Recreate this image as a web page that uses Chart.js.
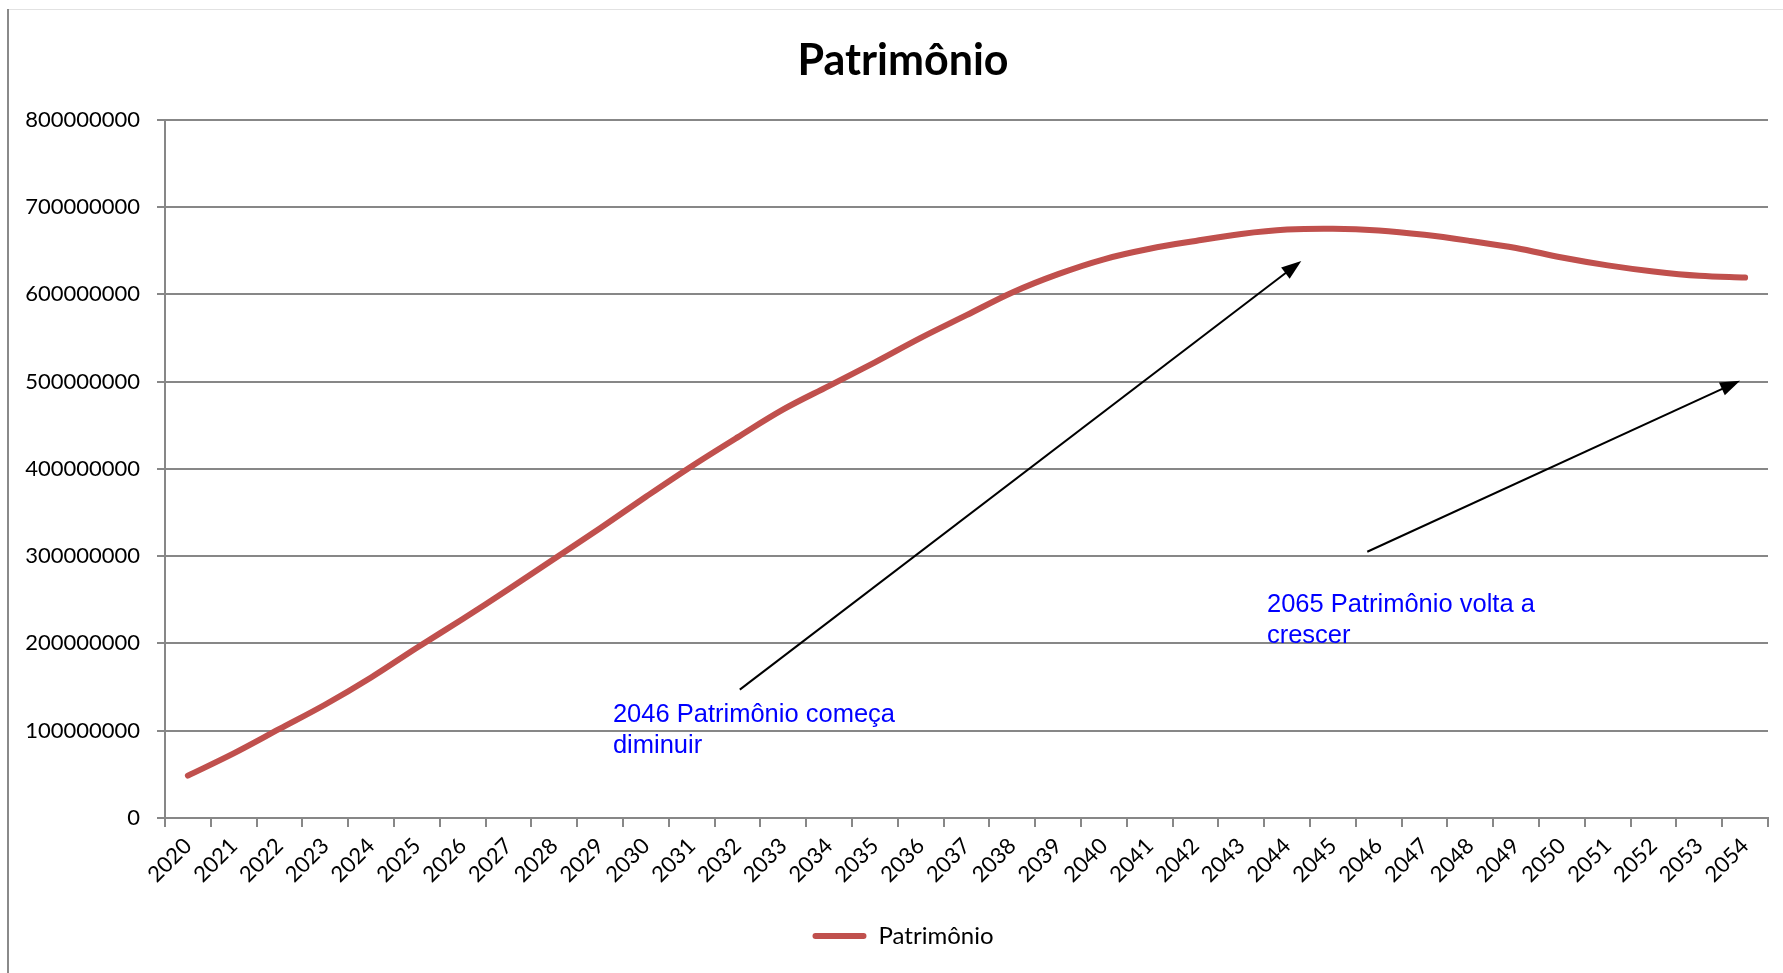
<!DOCTYPE html>
<html>
<head>
<meta charset="utf-8">
<title>Patrimônio</title>
<script src="https://cdn.jsdelivr.net/npm/chart.js@4.4.1/dist/chart.umd.min.js"></script>
<style>
    html, body { margin: 0; padding: 0; background: #fff; }
    canvas { display: block; }
</style>
</head>
<body>
<canvas id="patrimonioChart" width="1783" height="973"></canvas>
<script>
// Chart data
const years = [
    '2020', '2021', '2022', '2023', '2024', '2025', '2026', '2027', '2028', '2029',
    '2030', '2031', '2032', '2033', '2034', '2035', '2036', '2037', '2038', '2039',
    '2040', '2041', '2042', '2043', '2044', '2045', '2046', '2047', '2048', '2049',
    '2050', '2051', '2052', '2053', '2054'
];
const patrimonio = [
    48500000, 74000000, 102000000, 130000000, 161000000, 195000000, 228000000, 262000000, 297000000, 332000000,
    368000000, 403000000, 436000000, 468000000, 495000000, 522000000, 550000000, 576000000, 602000000, 623000000,
    640000000, 652000000, 661000000, 669000000, 674000000, 675000000, 673000000, 668000000, 661000000, 653000000,
    642000000, 633000000, 626000000, 621000000, 619000000
];
const yMin = 0;
const yMax = 800000000;
const yStep = 100000000;

// Annotation texts
const noteLines = [
    ['2046 Patrimônio começa', 'diminuir'],
    ['2065 Patrimônio volta a', 'crescer']
];

// Where the notes and arrows sit, in axis units (category index, value)
const noteAnchors = [[9.28, 118500000], [23.56, 243500000]];
const arrowLines = [
    { from: [12.05, 147000000], to: [24.31, 638000000] },
    { from: [25.75, 305000000], to: [33.89, 501000000] }
];

const lineColor = '#C0504D';
const gridColor = '#878787';

// White background + the chart frame edge seen on the left/top
const framePlugin = {
    id: 'frame',
    afterLayout(chart) {
        // let the long y labels run past the axis box without being clipped
        chart.scales.y.left = 0;
    },
    beforeDraw(chart) {
        const ctx = chart.ctx;
        ctx.save();
        ctx.fillStyle = '#fff';
        ctx.fillRect(0, 0, chart.width, chart.height);
        ctx.strokeStyle = '#e2e2e2';
        ctx.lineWidth = 1;
        ctx.beginPath();
        ctx.moveTo(7, 9.5);
        ctx.lineTo(chart.width, 9.5);
        ctx.stroke();
        ctx.strokeStyle = '#8a8a8a';
        ctx.lineWidth = 2;
        ctx.beginPath();
        ctx.moveTo(8, 9);
        ctx.lineTo(8, chart.height);
        ctx.stroke();
        ctx.restore();
    }
};

// Arrows and blue notes
const notesPlugin = {
    id: 'notes',
    afterDatasetsDraw(chart) {
        const { ctx, scales: { x, y } } = chart;
        ctx.save();
        arrowLines.forEach(a => {
            const x1 = x.getPixelForValue(a.from[0]);
            const y1 = y.getPixelForValue(a.from[1]);
            const x2 = x.getPixelForValue(a.to[0]);
            const y2 = y.getPixelForValue(a.to[1]);
            const ang = Math.atan2(y2 - y1, x2 - x1);
            const c = Math.cos(ang), s = Math.sin(ang);
            const head = 20, half = 7;
            ctx.strokeStyle = '#000';
            ctx.lineWidth = 2;
            ctx.beginPath();
            ctx.moveTo(x1, y1);
            ctx.lineTo(x2 - c * head * 0.8, y2 - s * head * 0.8);
            ctx.stroke();
            ctx.fillStyle = '#000';
            ctx.beginPath();
            ctx.moveTo(x2, y2);
            ctx.lineTo(x2 - head * c + half * s, y2 - head * s - half * c);
            ctx.lineTo(x2 - head * c - half * s, y2 - head * s + half * c);
            ctx.closePath();
            ctx.fill();
        });
        ctx.font = '25.5px "Liberation Sans", Arial, sans-serif';
        ctx.fillStyle = '#0000FF';
        ctx.textAlign = 'left';
        ctx.textBaseline = 'middle';
        noteLines.forEach((lines, i) => {
            const px = x.getPixelForValue(noteAnchors[i][0]);
            const py = y.getPixelForValue(noteAnchors[i][1]);
            lines.forEach((t, j) => ctx.fillText(t, px, py + j * 31));
        });
        ctx.restore();
    }
};

Chart.defaults.font.family = 'Lato, "Open Sans", sans-serif';
Chart.defaults.color = '#000';

const ctx = document.getElementById('patrimonioChart').getContext('2d');
const patrimonioChart = new Chart(ctx, {
    type: 'line',
    data: {
        labels: years,
        datasets: [{
            label: 'Patrimônio',
            data: patrimonio,
            borderColor: lineColor,
            backgroundColor: lineColor,
            borderWidth: 6,
            borderCapStyle: 'round',
            borderJoinStyle: 'round',
            pointRadius: 0,
            tension: 0.35,
            fill: false
        }]
    },
    options: {
        responsive: false,
        animation: false,
        devicePixelRatio: 1,
        layout: {
            padding: { left: 38, right: 15, top: 0, bottom: 15 }
        },
        plugins: {
            title: {
                display: true,
                text: 'Patrimônio',
                color: '#000',
                font: { size: 43, weight: 'bold' },
                padding: { top: 35, bottom: 33 }
            },
            legend: {
                position: 'bottom',
                labels: {
                    boxWidth: 54,
                    boxHeight: 6,
                    padding: 10,
                    useBorderRadius: true,
                    borderRadius: 3,
                    color: '#000',
                    font: { size: 24 },
                    generateLabels: function(chart) {
                        return Chart.defaults.plugins.legend.labels.generateLabels(chart).map(item => {
                            item.lineWidth = 0;
                            item.fillStyle = lineColor;
                            return item;
                        });
                    }
                }
            },
            tooltip: { enabled: false }
        },
        scales: {
            x: {
                offset: true,
                afterFit: function(scale) { scale.height = 96; },
                grid: {
                    offset: true,
                    drawOnChartArea: false,
                    drawTicks: true,
                    tickLength: 9,
                    color: gridColor,
                    lineWidth: 2
                },
                border: { display: true, color: gridColor, width: 2 },
                ticks: {
                    autoSkip: false,
                    maxRotation: 45,
                    minRotation: 45,
                    padding: 6,
                    font: { size: 22 }
                }
            },
            y: {
                min: yMin,
                max: yMax,
                afterFit: function(scale) { scale.width = 127; },
                grid: {
                    color: gridColor,
                    lineWidth: 2,
                    drawTicks: true,
                    tickLength: 8
                },
                border: { display: true, color: gridColor, width: 2 },
                ticks: {
                    stepSize: yStep,
                    padding: 17,
                    font: { size: 22 },
                    callback: function(value) {
                        return String(value);
                    }
                }
            }
        }
    },
    plugins: [framePlugin, notesPlugin]
});
</script>
</body>
</html>
